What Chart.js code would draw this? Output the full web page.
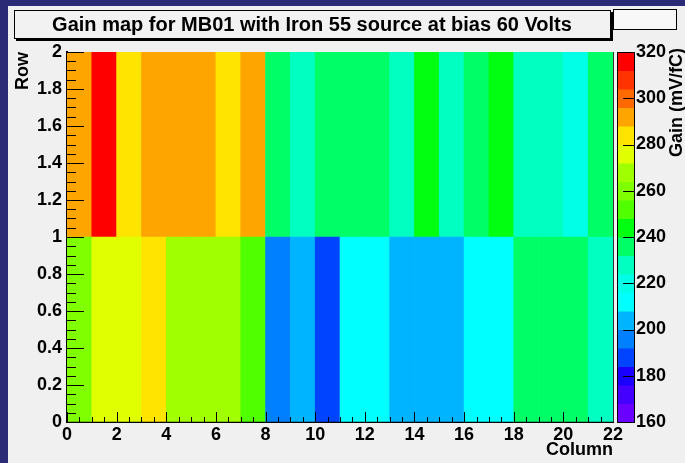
<!DOCTYPE html>
<html>
<head>
<meta charset="utf-8">
<script src="https://cdn.jsdelivr.net/npm/chart.js@4.4.1/dist/chart.umd.min.js"></script>
<style>
  html, body { margin: 0; padding: 0; width: 685px; height: 463px; overflow: hidden; background: #2b2a77; }
  #panel { position: absolute; left: 8px; top: 6px; width: 677px; height: 457px; background: #f0f0f0; }
  #wrap { position: absolute; left: 0; top: 0; width: 685px; height: 463px; }
</style>
</head>
<body>
<div id="panel"></div>
<div id="wrap"><canvas id="gainMap" width="685" height="463"></canvas></div>
<script>
// Data: one value per column, two rows
const columns = [0, 1, 2, 3, 4, 5, 6, 7, 8, 9, 10, 11, 12, 13, 14, 15, 16, 17, 18, 19, 20, 21];
const rows = [0, 1];
const gainRow0 = [260, 276, 276, 284, 268, 268, 268, 252, 196, 204, 188, 212, 212, 204, 204, 204, 212, 212, 236, 236, 236, 228];
const gainRow1 = [292, 316, 284, 292, 292, 292, 284, 292, 236, 228, 236, 236, 236, 228, 244, 228, 236, 244, 228, 228, 220, 236];
const gainTicks = [160, 180, 200, 220, 240, 260, 280, 300, 320];

const gainMin = 160;
const gainMax = 320;
const bandWidth = 8;

// 20 contour colours, low to high
const bandColors = [
  '#6a00ff', '#4400ff', '#1a00ff', '#0044ff', '#0080ff',
  '#00b4ff', '#00ffff', '#00ffe6', '#00ffc0', '#00ff66',
  '#00ff10', '#50ff00', '#80ff00', '#a0ff00', '#e0ff00',
  '#ffe400', '#ffa500', '#ff6a00', '#ff3300', '#ff0000'
];

const FONT = "'Liberation Sans', Arial, sans-serif";

function colorFor(v) {
  let i = Math.floor((v - gainMin) / bandWidth);
  i = Math.max(0, Math.min(bandColors.length - 1, i));
  return bandColors[i];
}

function rowDataset(row, values) {
  return {
    data: columns.map(c => ({ x: c + 0.5, y: [row, row + 1] })),
    backgroundColor: values.map(colorFor),
    borderWidth: 0,
    grouped: false,
    barPercentage: 1,
    categoryPercentage: 1,
  };
}

const decor = {
  id: 'decor',
  beforeDraw(chart) {
    const ctx = chart.ctx;
    ctx.save();
    // title box with shadow
    ctx.fillStyle = '#000';
    ctx.fillRect(16, 12, 597, 29);
    ctx.fillStyle = '#f2f2f2';
    ctx.fillRect(14, 10, 597, 29);
    ctx.strokeStyle = '#000';
    ctx.lineWidth = 1;
    ctx.strokeRect(14.5, 10.5, 596, 28);
    ctx.fillStyle = '#000';
    ctx.font = 'bold 20px ' + FONT;
    ctx.textAlign = 'center';
    ctx.textBaseline = 'middle';
    ctx.fillText('Gain map for MB01 with Iron 55 source at bias 60 Volts', 312, 25);
    // stats box
    ctx.fillStyle = '#f8f8f8';
    ctx.fillRect(613, 9, 64, 21);
    ctx.strokeRect(613.5, 9.5, 63, 20);
    ctx.restore();
  },
  afterDatasetsDraw(chart) {
    const { ctx, chartArea: a, scales: { x, y } } = chart;
    ctx.save();
    ctx.strokeStyle = '#000';
    ctx.lineWidth = 1;
    ctx.beginPath();
    for (let k = 0; k <= 44; k++) {
      const v = k * 0.5;
      const px = Math.round(x.getPixelForValue(v)) + 0.5;
      const len = k % 4 === 0 ? 10 : 5;
      ctx.moveTo(px, a.bottom);
      ctx.lineTo(px, a.bottom - len);
    }
    for (let k = 0; k <= 40; k++) {
      const v = k * 0.05;
      const py = Math.round(y.getPixelForValue(v)) + 0.5;
      const len = k % 4 === 0 ? 17 : 9;
      ctx.moveTo(a.left, py);
      ctx.lineTo(a.left + len, py);
    }
    ctx.stroke();
    // right edge of frame
    ctx.strokeStyle = '#333';
    ctx.beginPath();
    ctx.moveTo(a.right + 0.5, a.top);
    ctx.lineTo(a.right + 0.5, a.bottom);
    ctx.stroke();
    ctx.restore();
  },
  afterDraw(chart) {
    const { ctx, chartArea: a, scales: { gain } } = chart;
    const left = a.right + 4, w = 17;
    ctx.save();
    for (let i = 0; i < bandColors.length; i++) {
      const lo = gainMin + i * bandWidth;
      const y1 = gain.getPixelForValue(lo);
      const y2 = gain.getPixelForValue(lo + bandWidth);
      ctx.fillStyle = bandColors[i];
      ctx.fillRect(left, y2, w, y1 - y2 + 0.5);
    }
    ctx.strokeStyle = '#000';
    ctx.lineWidth = 1;
    ctx.strokeRect(left + 0.5, a.top + 0.5, w, a.bottom - a.top);
    ctx.beginPath();
    gainTicks.forEach(t => {
      const py = Math.round(gain.getPixelForValue(t)) + 0.5;
      ctx.moveTo(left + w, py);
      ctx.lineTo(left + w - 11, py);
    });
    ctx.stroke();
    // colour axis title, reading upward
    ctx.translate(677, 48);
    ctx.rotate(-Math.PI / 2);
    ctx.fillStyle = '#000';
    ctx.font = 'bold 18px ' + FONT;
    ctx.textAlign = 'right';
    ctx.textBaseline = 'middle';
    ctx.fillText('Gain (mV/fC)', 0, 0);
    ctx.restore();
  }
};

const tickFont = { family: FONT, size: 18, weight: 'bold' };

new Chart(document.getElementById('gainMap'), {
  type: 'bar',
  data: {
    datasets: [rowDataset(rows[0], gainRow0), rowDataset(rows[1], gainRow1)]
  },
  options: {
    responsive: false,
    animation: false,
    layout: { padding: { top: 52, left: 0, right: 0, bottom: 0 } },
    plugins: { legend: { display: false }, tooltip: { enabled: false } },
    scales: {
      x: {
        type: 'linear', min: 0, max: 22, z: 1, offset: false,
        ticks: { stepSize: 2, color: '#000', font: tickFont, padding: 2, maxRotation: 0, autoSkip: false },
        grid: { drawOnChartArea: false, drawTicks: false, offset: false },
        border: { color: '#000', width: 2 },
        title: { display: true, text: 'Column', align: 'end', color: '#000',
                 font: tickFont, padding: { top: 0, bottom: 2 } },
        afterFit(s) { s.height = 41; }
      },
      y: {
        type: 'linear', min: 0, max: 2, z: 1,
        ticks: { stepSize: 0.2, color: '#000', font: tickFont, padding: 5, autoSkip: false,
                 callback: v => String(Math.round(v * 10) / 10) },
        grid: { drawOnChartArea: false, drawTicks: false },
        border: { color: '#000', width: 2 },
        title: { display: true, text: 'Row', align: 'end', color: '#000',
                 font: tickFont, padding: { top: 12, bottom: 0 } },
        afterFit(s) { s.width = 67; }
      },
      gain: {
        type: 'linear', axis: 'y', position: 'right', min: gainMin, max: gainMax,
        ticks: { stepSize: 20, color: '#000', font: tickFont, padding: 23 },
        grid: { display: false, drawTicks: false },
        border: { display: false },
        afterFit(s) { s.width = 72; }
      }
    }
  },
  plugins: [decor]
});
</script>
</body>
</html>
